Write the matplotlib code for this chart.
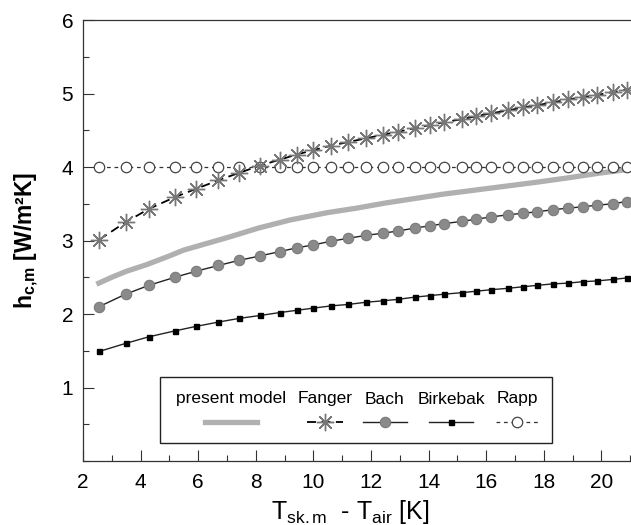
import matplotlib
matplotlib.use('Agg')
import matplotlib.pyplot as plt
from matplotlib.patches import Rectangle
from matplotlib.ticker import MultipleLocator

plt.rcParams['font.family'] = ['Liberation Sans', 'DejaVu Sans']
plt.rcParams['mathtext.fontset'] = 'custom'
plt.rcParams['mathtext.rm'] = 'Liberation Sans'
plt.rcParams['mathtext.it'] = 'Liberation Sans'
plt.rcParams['mathtext.bf'] = 'Liberation Sans:bold'

# ---- data ----
dT = [2.56, 3.48, 4.29, 5.19, 5.91, 6.70, 7.42, 8.15, 8.84, 9.42, 10.00,
      10.61, 11.21, 11.83, 12.43, 12.95, 13.53, 14.05, 14.55, 15.15, 15.65,
      16.16, 16.77, 17.27, 17.77, 18.33, 18.85, 19.37, 19.86, 20.39, 20.88]
fanger = [3.01, 3.25, 3.43, 3.59, 3.70, 3.82, 3.92, 4.02, 4.10, 4.17, 4.23,
          4.29, 4.34, 4.39, 4.44, 4.48, 4.53, 4.57, 4.61, 4.65, 4.69,
          4.73, 4.77, 4.81, 4.84, 4.88, 4.92, 4.95, 4.98, 5.02, 5.05]
bach = [2.10, 2.27, 2.39, 2.50, 2.58, 2.66, 2.73, 2.79, 2.85, 2.90, 2.94,
        2.99, 3.03, 3.07, 3.10, 3.13, 3.17, 3.20, 3.23, 3.26, 3.29,
        3.32, 3.35, 3.37, 3.39, 3.42, 3.44, 3.46, 3.48, 3.50, 3.53]
birkebak = [1.49, 1.60, 1.69, 1.77, 1.83, 1.89, 1.94, 1.98, 2.02, 2.05, 2.08,
            2.11, 2.13, 2.16, 2.18, 2.20, 2.23, 2.25, 2.27, 2.29, 2.31,
            2.33, 2.35, 2.37, 2.39, 2.41, 2.42, 2.44, 2.45, 2.47, 2.49]
rapp = [4.0] * 31
model_dT = [2.55, 3.0, 3.5, 4.2, 5.0, 5.5, 6.3, 7.1, 8.1, 9.2, 10.5, 11.5,
            12.5, 13.5, 14.5, 15.5, 16.5, 17.7, 18.8, 20.0, 21.0]
model_h = [2.42, 2.50, 2.58, 2.67, 2.79, 2.87, 2.96, 3.05, 3.17, 3.28, 3.38,
           3.44, 3.51, 3.57, 3.63, 3.68, 3.73, 3.79, 3.85, 3.92, 3.97]

legend_labels = ['present model', 'Fanger', 'Bach', 'Birkebak', 'Rapp']
x_ticks = [2, 4, 6, 8, 10, 12, 14, 16, 18, 20]
y_ticks = [1, 2, 3, 4, 5, 6]

# ---- styles ----
W, H = 631, 525
fig = plt.figure(figsize=(W / 100, H / 100), dpi=100)
ax = fig.add_axes([83 / W, 64 / H, 548 / W, 441 / H])

styles = {
    'present model': dict(color='#b0b0b0', lw=3.8, ls='-', marker=None),
    'Fanger': dict(color='black', lw=1.3, ls=(0, (5, 3)), marker=(8, 2, 0),
                   ms=12.5, mec='#777777', mfc='none', mew=1.0),
    'Bach': dict(color='#222222', lw=1.0, ls='-', marker='o', ms=7.5,
                 mfc='#8a8a8a', mec='#7a7a7a', mew=0.8),
    'Birkebak': dict(color='#222222', lw=1.0, ls='-', marker='s', ms=3.6,
                     mfc='black', mec='black'),
    'Rapp': dict(color='#333333', lw=0.9, ls=(0, (3, 3)), marker='o', ms=7.5,
                 mfc='white', mec='#444444', mew=0.9),
}

ax.plot(model_dT, model_h, **styles['present model'], zorder=2)
ax.plot(dT, rapp, **styles['Rapp'], zorder=3)
ax.plot(dT, fanger, **styles['Fanger'], zorder=4)
ax.plot(dT, bach, **styles['Bach'], zorder=4)
ax.plot(dT, birkebak, **styles['Birkebak'], zorder=4)

ax.set_xlim(2, 21.03)
ax.set_ylim(0, 6)
ax.set_xticks(x_ticks)
ax.set_yticks(y_ticks)
ax.xaxis.set_minor_locator(MultipleLocator(1))
ax.yaxis.set_minor_locator(MultipleLocator(0.5))
ax.tick_params(which='both', direction='in', top=False, right=False,
               width=0.8, color='#333333')
ax.tick_params(which='major', length=8, labelsize=15)
ax.tick_params(axis='x', which='major', pad=8.5)
ax.tick_params(axis='y', which='major', pad=7)
ax.tick_params(which='minor', length=4)
ax.spines['right'].set_visible(False)
for s in ['left', 'bottom', 'top']:
    ax.spines[s].set_linewidth(0.9)
    ax.spines[s].set_color('#333333')

ax.set_ylabel(r'$\mathbf{h}_{\mathbf{c{,}m}}$ [W/m²K]', fontsize=16.5,
              fontweight='bold')
ax.yaxis.set_label_coords(-0.076, 0.5)
ax.set_xlabel(r'$\mathrm{T}_{\mathrm{sk{.}m}}$  - $\mathrm{T}_{\mathrm{air}}$ [K]',
              fontsize=18)
ax.xaxis.set_label_coords(0.487, -0.083)

# ---- legend (labels above handles, as in the reference) ----
def axx(px):
    return (px - 83) / 548

def axy(py):
    return (461 - py) / 441

ax.add_patch(Rectangle((axx(160), axy(443)), axx(552) - axx(160),
                       axy(377) - axy(443), transform=ax.transAxes,
                       facecolor='white', edgecolor='#222222', lw=1.0,
                       zorder=6))
centers = [231, 325, 385, 451, 517]
halfw = [26, 18, 22, 22, 21]
for lab, cx, hw in zip(legend_labels, centers, halfw):
    ax.text(axx(cx), axy(399), lab, transform=ax.transAxes, ha='center',
            va='center', fontsize=12.5, zorder=7)
    st = dict(styles[lab])
    ax.plot([axx(cx - hw), axx(cx), axx(cx + hw)], [axy(422)] * 3,
            transform=ax.transAxes, markevery=[1], zorder=7, **st)

fig.savefig('out.png', dpi=100)
